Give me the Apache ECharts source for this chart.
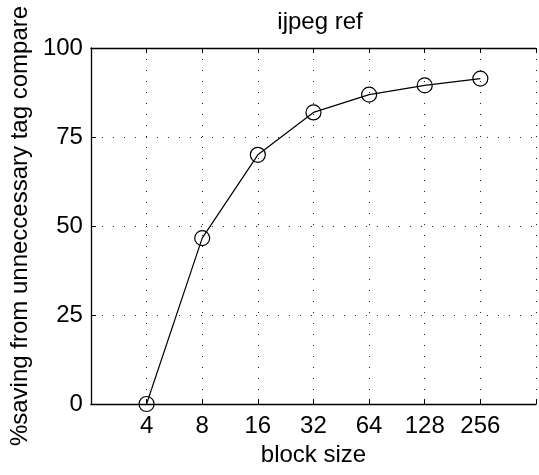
<!doctype html>
<html>
<head>
<meta charset="utf-8">
<title>ijpeg ref</title>
<script src="https://cdn.jsdelivr.net/npm/echarts@6/dist/echarts.min.js"></script>
<style>
  html, body { margin: 0; padding: 0; background: #fff; }
  #chart { width: 539px; height: 475px; }
</style>
</head>
<body>
<div id="chart"></div>
<script>
// block sizes on the x axis, one per grid position 1..7
var blockSizes = ['4', '8', '16', '32', '64', '128', '256'];
// % saving from unnecessary tag compare
var savings = [0, 46.6, 70, 81.9, 86.9, 89.5, 91.4];
var yTicks = [0, 25, 50, 75, 100];

var font = 'Liberation Sans, Arial, Helvetica, sans-serif';
var dotted = { color: '#222', width: 1, type: [1, 10] };

var pts = [];
for (var i = 0; i < savings.length; i++) {
  pts.push([i + 1, savings[i]]);
}

var chart = echarts.init(document.getElementById('chart'));
var option = {
  animation: false,
  backgroundColor: '#fff',
  title: {
    text: 'ijpeg ref',
    left: 315, top: 5,
    textAlign: 'center',
    textStyle: { fontFamily: font, fontSize: 24, fontWeight: 'normal', color: '#000' }
  },
  grid: { left: 88, top: 48, bottom: 71, width: 453 },
  xAxis: [{
    type: 'value', min: 0, max: 8, interval: 1,
    position: 'bottom',
    name: 'block size', nameLocation: 'middle', nameGap: 37,
    nameTextStyle: { fontFamily: font, fontSize: 24, color: '#000' },
    axisLine: { lineStyle: { color: '#000', width: 1.3 } },
    axisTick: { inside: true, length: 5, lineStyle: { color: '#000' } },
    axisLabel: {
      fontFamily: font, fontSize: 24, color: '#000', margin: 10,
      formatter: function (v) { return (v >= 1 && v <= blockSizes.length) ? blockSizes[v - 1] : ''; }
    },
    splitLine: { show: true, lineStyle: dotted }
  }, {
    type: 'value', min: 0, max: 8, interval: 1,
    position: 'top',
    axisLine: { lineStyle: { color: '#000', width: 1.3 } },
    axisTick: { inside: true, length: 5, lineStyle: { color: '#000' } },
    axisLabel: { show: false },
    splitLine: { show: false }
  }],
  yAxis: {
    type: 'value', min: yTicks[0], max: yTicks[yTicks.length - 1], interval: 25,
    name: '%saving from unneccessary tag compare', nameLocation: 'middle', nameGap: 58,
    nameTextStyle: { fontFamily: font, fontSize: 24, color: '#000' },
    axisLine: { show: true, lineStyle: { color: '#000', width: 1.3 } },
    axisTick: { show: true, inside: true, length: 5, lineStyle: { color: '#000' } },
    axisLabel: { fontFamily: font, fontSize: 24, color: '#000', margin: 8 },
    splitLine: { show: true, lineStyle: dotted }
  },
  series: [{
    type: 'line',
    data: pts,
    symbol: 'circle',
    symbolSize: 15,
    itemStyle: { color: 'rgba(0,0,0,0)', borderColor: '#000', borderWidth: 1.2 },
    lineStyle: { color: '#000', width: 1.2 },
    emphasis: { disabled: true }
  }]
};
chart.setOption(option);
</script>
</body>
</html>
